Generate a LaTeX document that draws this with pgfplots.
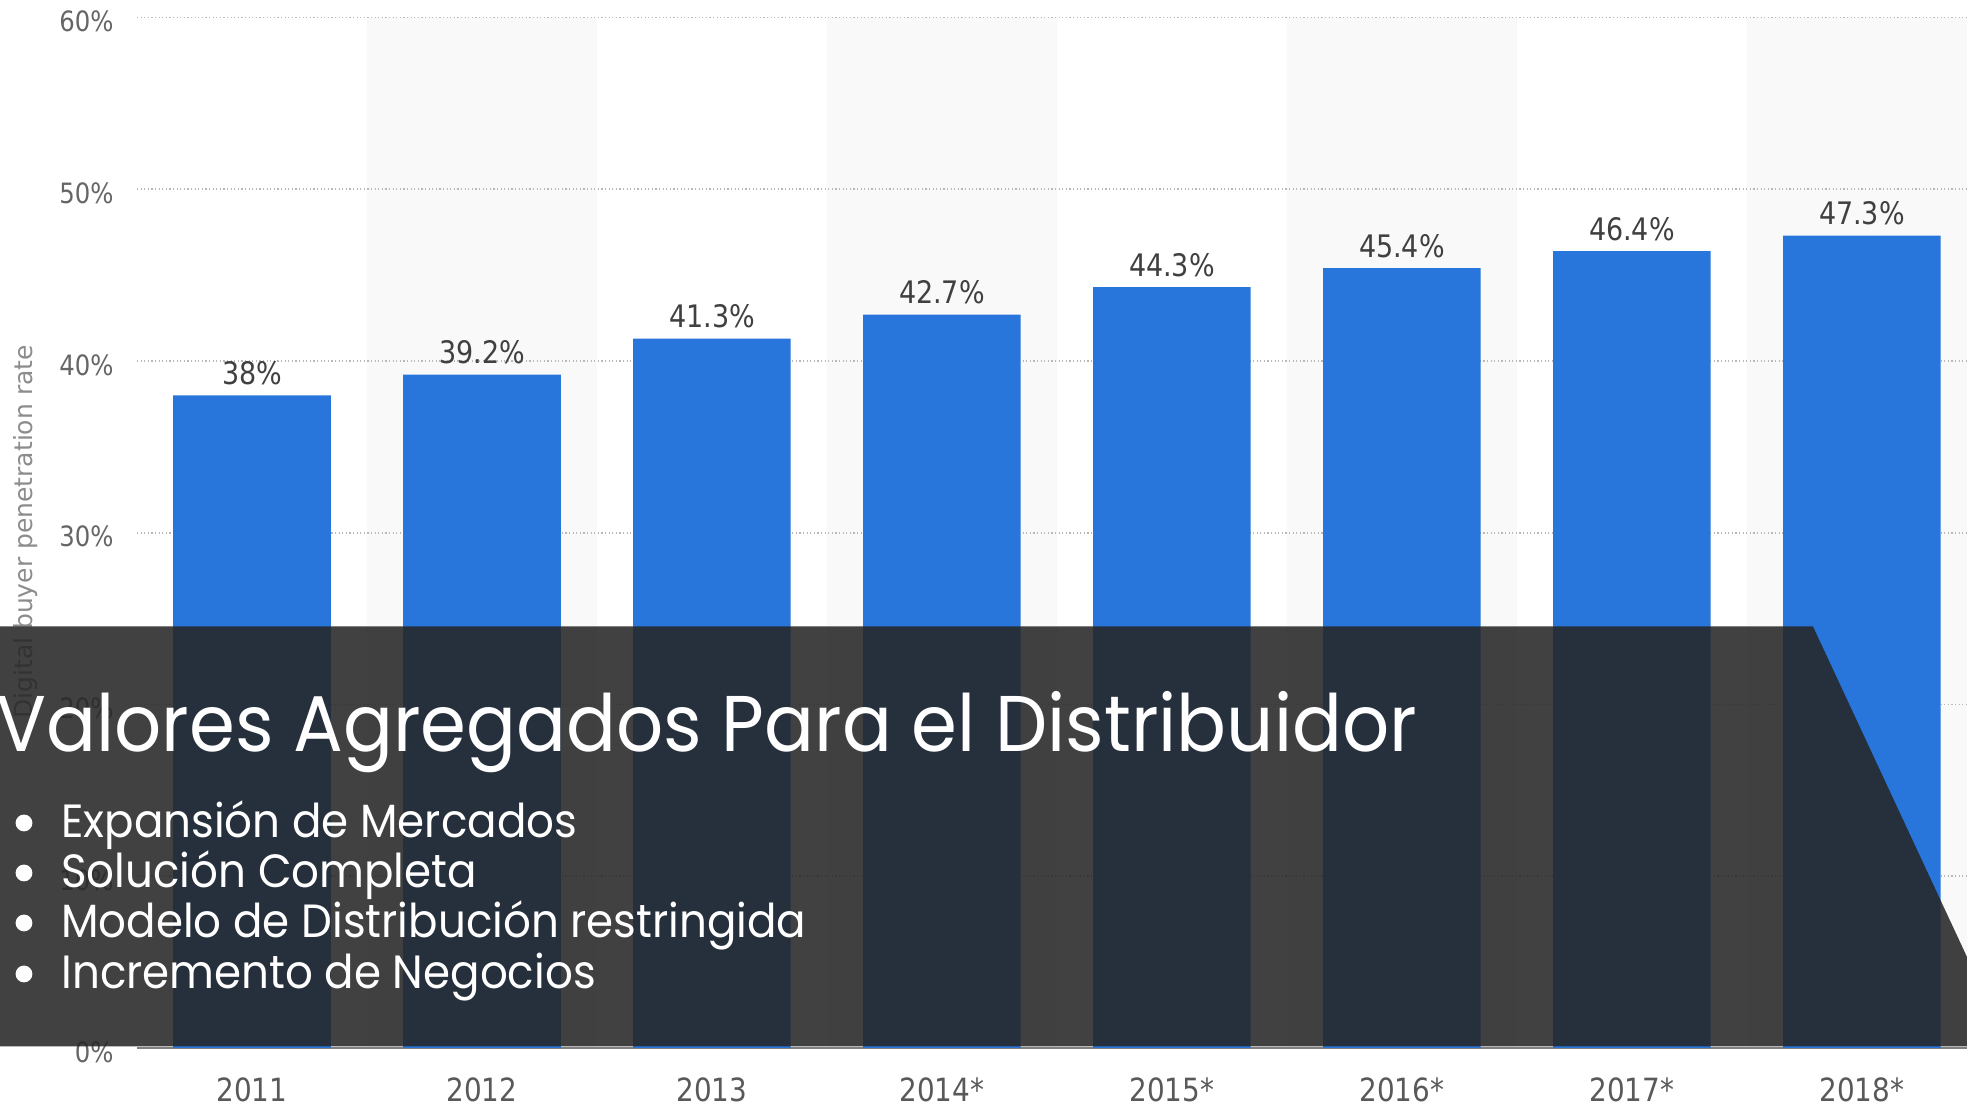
\documentclass[border=0pt]{standalone}
\usepackage{pgfplots}
\pgfplotsset{compat=1.18}
\usepackage{fontspec}
\setmainfont{Poppins}
\newfontfamily\panelfont[FakeStretch=0.935]{Poppins}
\newfontfamily\statfont[FakeStretch=0.87]{DejaVu Sans}
\newfontfamily\labfont{DejaVu Sans}
\definecolor{barblue}{HTML}{2876DC}
\definecolor{bandgray}{HTML}{F9F9F9}
\definecolor{panelc}{HTML}{262626}
\pgfplotsset{geom/.style={at={(0pt,0pt)}, anchor=south west,
  scale only axis, width=915pt, height=515.25pt,
  xmin=-0.5, xmax=7.457, ymin=0, ymax=60}}
\begin{document}
\begin{tikzpicture}
\fill[white] (-68.5pt,-29pt) rectangle (915pt,524pt);
\begin{axis}[geom, hide axis]
\addplot[ybar, bar width=1, fill=bandgray, draw=none] coordinates {(1,60) (3,60) (5,60) (7,60)};
\end{axis}
\begin{axis}[
  geom,
  axis x line*=bottom, axis y line*=left,
  y axis line style={draw=none},
  x axis line style={draw=black!50, line width=1pt},
  major tick length=0pt,
  xtick={0,...,7},
  xticklabels={2011,2012,2013,2014*,2015*,2016*,2017*,2018*},
  ytick={0,10,...,60},
  yticklabels={0\%,10\%,20\%,30\%,40\%,50\%,60\%},
  ymajorgrids,
  major grid style={draw=black!28, line width=0.8pt, dash pattern=on 0.6pt off 1.2pt},
  yticklabel style={font=\statfont\fontsize{14}{14}\selectfont, text=black!60, anchor=east, inner sep=0pt, xshift=-11.5pt, yshift=-2pt},
  xticklabel style={font=\statfont\fontsize{16}{16}\selectfont, text=black!65, anchor=base, inner sep=0pt, yshift=-27pt},
  ybar, bar width=0.685,
  nodes near coords, point meta=explicit symbolic,
  nodes near coords style={font=\statfont\fontsize{15.5}{15.5}\selectfont, text=black!75, anchor=base, inner sep=0pt, yshift=5.5pt},
]
\addplot[fill=barblue, draw=none] coordinates {
 (0,38) [38\%]
 (1,39.2) [39.2\%]
 (2,41.3) [41.3\%]
 (3,42.7) [42.7\%]
 (4,44.3) [44.3\%]
 (5,45.4) [45.4\%]
 (6,46.4) [46.4\%]
 (7,47.3) [47.3\%]
};
\end{axis}
\node[rotate=90, text=black!45, font=\labfont\fontsize{12.5}{12.5}\selectfont] at (-55.5pt,258pt) {Digital buyer penetration rate};
\fill[panelc, opacity=0.875] (-68.5pt,210.75pt) -- (838pt,210.75pt) -- (915pt,45.5pt) -- (915pt,0.75pt) -- (-68.5pt,0.75pt) -- cycle;
\node[anchor=base west, inner sep=0pt, text=white, font=\panelfont\fontsize{39.5}{39.5}\selectfont] at (-70.5pt,148pt) {Valores Agregados Para el Distribuidor};
\foreach \yy/\txt in {105/{Expansión de Mercados}, 80/{Solución Completa}, 55/{Modelo de Distribución restringida}, 29.5/{Incremento de Negocios}} {
  \fill[white] (-56.5pt,\yy pt+7.5pt) circle (4.2pt);
  \node[anchor=base west, inner sep=0pt, text=white, font=\panelfont\fontsize{23.3}{23.3}\selectfont] at (-38pt,\yy pt) {\txt};
}
\pgfresetboundingbox
\useasboundingbox (-68.5pt,-29pt) rectangle (915pt,524pt);
\end{tikzpicture}
\end{document}
